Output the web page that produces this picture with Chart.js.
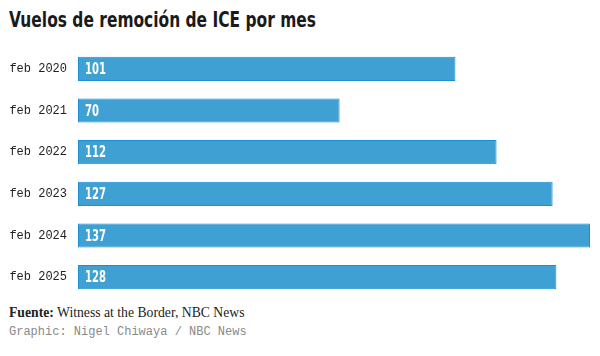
<!DOCTYPE html>
<html><head><meta charset="utf-8">
<script src="https://cdn.jsdelivr.net/npm/chart.js@4"></script>
<style>
html,body{margin:0;padding:0;background:#fff;width:600px;height:356px;overflow:hidden;}
#title{position:absolute;left:9px;top:7px;font-family:"Liberation Sans Narrow","DejaVu Sans Condensed",sans-serif;font-weight:bold;font-size:22px;color:#1a1a1a;white-space:nowrap;transform-origin:0 0;}
#c{position:absolute;left:0;top:48px;}
#src{position:absolute;left:9px;top:305px;font-family:"Liberation Serif",serif;font-size:13.7px;color:#222;white-space:nowrap;}
#src b{font-weight:bold;}
#credit{position:absolute;left:9px;top:325px;font-family:"Liberation Mono",monospace;font-size:12px;color:#8a8a8a;white-space:nowrap;}
</style></head>
<body>
<div id="title">Vuelos de remoción de ICE por mes</div>
<canvas id="c" width="600" height="250" style="width:600px;height:250px"></canvas>
<div id="src"><b>Fuente:</b> Witness at the Border, NBC News</div>
<div id="credit">Graphic: Nigel Chiwaya / NBC News</div>
<script>
const categories = ["feb 2020","feb 2021","feb 2022","feb 2023","feb 2024","feb 2025"];
const flights = [101,70,112,127,137,128];

(function(){
  const t=document.getElementById('title');
  const w=t.getBoundingClientRect().width;
  t.style.transform='scaleX('+(307/w)+')';
})();

const valueLabels = {
  id:'valueLabels',
  afterDatasetsDraw(chart){
    const ctx = chart.ctx;
    const meta = chart.getDatasetMeta(0);
    ctx.save();
    ctx.fillStyle = '#ffffff';
    ctx.font = 'bold 16px "Liberation Sans Narrow","DejaVu Sans Condensed",sans-serif';
    ctx.textBaseline = 'middle';
    ctx.textAlign = 'left';
    const k = Math.min(1, 21 / ctx.measureText('128').width);
    meta.data.forEach((bar,i)=>{
      ctx.save();
      ctx.translate(bar.base + 7, bar.y + 1);
      ctx.scale(k,1);
      ctx.fillText(String(flights[i]), 0, 0);
      ctx.restore();
    });
    ctx.restore();
  }
};

new Chart(document.getElementById('c'),{
  type:'bar',
  data:{labels:categories,datasets:[{data:flights,backgroundColor:'#3fa0d4',borderColor:'#1a8fd5',borderWidth:1,borderSkipped:false,barPercentage:0.58,categoryPercentage:1}]},
  options:{
    indexAxis:'y',responsive:false,maintainAspectRatio:false,animation:false,devicePixelRatio:1,
    layout:{padding:{left:0,right:10,top:0,bottom:0}},
    plugins:{legend:{display:false},tooltip:{enabled:false}},
    scales:{
      x:{display:false,min:0,max:137},
      y:{grid:{display:false,drawTicks:false},border:{display:false},
         ticks:{padding:11,color:'#222',font:{family:'"Liberation Mono",monospace',size:12}},
         afterFit(s){s.width=78;s.paddingTop=0;s.paddingBottom=0;}}
    }
  },
  plugins:[valueLabels]
});
</script>
</body></html>
